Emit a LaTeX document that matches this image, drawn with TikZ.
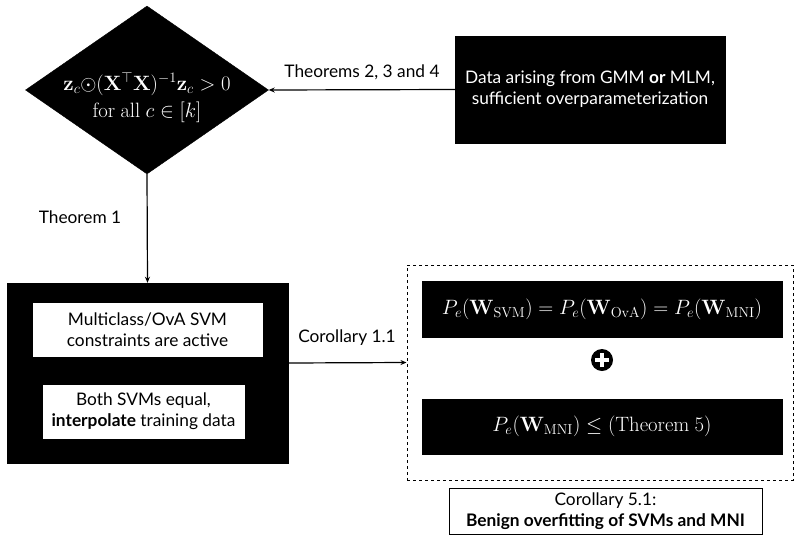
\documentclass[tikz,border=0pt]{standalone}
\usepackage[no-math]{fontspec}
\setmainfont{Lato}
\usetikzlibrary{shapes.geometric,arrows.meta}
\begin{document}
\begin{tikzpicture}[x=1pt,y=-1pt,
  every node/.style={font=\fontsize{17.3}{21}\selectfont},
  mth/.style={font=\fontsize{20.5}{24}\selectfont},
  blk/.style={draw=black,fill=black,text=white,inner sep=0pt,align=center},
  wht/.style={draw=black,fill=white,text=black,inner sep=0pt,align=center},
  conn/.style={line width=1.2pt,-{Stealth[length=6pt,width=5pt]}},
  lbl/.style={text=black}]
\useasboundingbox (0,0) rectangle (795,544);
\node[blk,mth,shape=diamond,minimum width=243,minimum height=168] (dia) at (147,90)
  {\makebox[0pt]{\smash{\begin{tabular}[t]{@{}c@{}}$\mathbf{z}_c{\odot}(\mathbf{X}^{\top}\mathbf{X})^{-1}\mathbf{z}_c>0$\\[3pt] $\mathrm{for\ all}\ c\in[k]$\end{tabular}}}};
\node[blk,minimum width=270,minimum height=107] (data) at (590,89.5)
  {Data arising from GMM \textbf{or} MLM,\\ sufficient overparameterization};
\node[blk,minimum width=281,minimum height=180] (big) at (147.5,373) {};
\node[wht,minimum width=231,minimum height=55] (w1) at (147.5,329.5)
  {Multiclass/OvA SVM\\ constraints are active};
\node[wht,minimum width=203,minimum height=55] (w2) at (143.5,411.5)
  {Both SVMs equal,\\ \textbf{interpolate} training data};
\node[draw=black,dashed,line width=1pt,minimum width=386,minimum height=215,inner sep=0pt] (dash) at (600,372.5) {};
\node[blk,mth,minimum width=360,minimum height=56] (b1) at (602,309)
  {$P_e(\mathbf{W}_{\mathrm{SVM}})=P_e(\mathbf{W}_{\mathrm{OvA}})=P_e(\mathbf{W}_{\mathrm{MNI}})$};
\node[circle,fill=black,minimum size=22,inner sep=0pt] (plus) at (602,360) {};
\draw[white,line width=3.8pt] ([xshift=-7pt]plus.center) -- ([xshift=7pt]plus.center)
  ([yshift=-7pt]plus.center) -- ([yshift=7pt]plus.center);
\node[blk,mth,minimum width=360,minimum height=55] (b2) at (602,426.5)
  {$P_e(\mathbf{W}_{\mathrm{MNI}})\leq(\mathrm{Theorem}\ 5)$};
\node[wht,line width=1pt,minimum width=313,minimum height=46] (cor) at (605.5,511)
  {Corollary 5.1:\\ \textbf{Benign overfitting of SVMs and MNI}};
\draw[conn] (data.west) -- (dia.east);
\draw[conn] (dia.south) -- (big.north);
\draw[conn] ([yshift=10pt]big.east) -- ([yshift=10pt]dash.west);
\node[lbl] (l1) at (362,72) {Theorems 2, 3 and 4};
\node[lbl] (l2) at (80,217) {Theorem 1};
\node[lbl] (l3) at (347,338) {Corollary 1.1};
\end{tikzpicture}
\end{document}
